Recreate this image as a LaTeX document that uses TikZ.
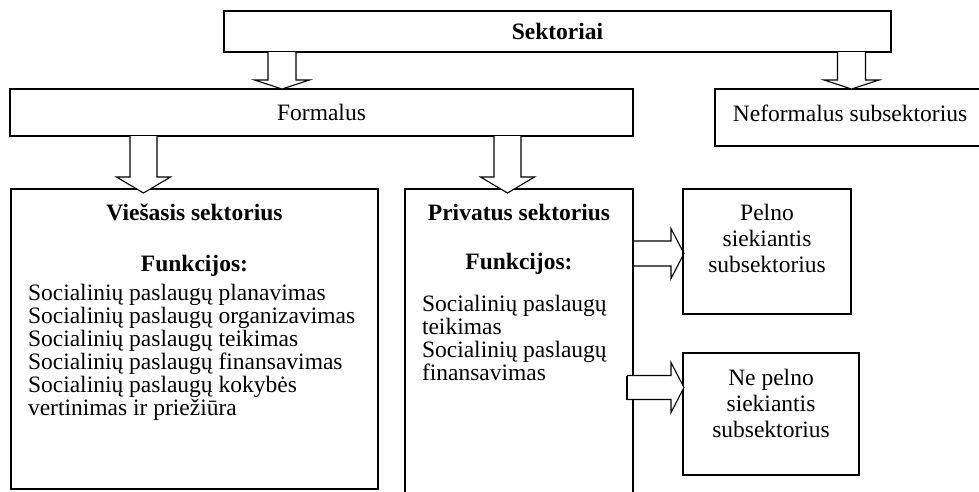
\documentclass[tikz,border=0pt]{standalone}
\usepackage{fontspec}
\setmainfont{Liberation Serif}
\usetikzlibrary{calc}
\newcommand{\downblock}[5]{% #1 start coordinate, #2 shaft half, #3 head half, #4 shaft length, #5 head length
  \draw[barrow] ($(#1)+(-#2,0)$) -- ($(#1)+(-#2,#4)$) -- ($(#1)+(-#3,#4)$) -- ($(#1)+(0,#4+#5)$)
    -- ($(#1)+(#3,#4)$) -- ($(#1)+(#2,#4)$) -- ($(#1)+(#2,0)$);}
\newcommand{\rightblock}[5]{%
  \draw[barrow] ($(#1)+(0,-#2)$) -- ($(#1)+(#4,-#2)$) -- ($(#1)+(#4,-#3)$) -- ($(#1)+(#4+#5,0)$)
    -- ($(#1)+(#4,#3)$) -- ($(#1)+(#4,#2)$) -- ($(#1)+(0,#2)$);}
\begin{document}
\begin{tikzpicture}[x=1pt,y=-1pt,
  box/.style={draw, line width=1.1pt, inner sep=0pt, outer sep=0pt, anchor=north west},
  txt/.style={inner sep=0pt, outer sep=0pt, font=\fontsize{23.5}{23}\selectfont},
  barrow/.style={draw, line width=1.1pt, line join=miter, fill=white}]
\useasboundingbox (0,0) rectangle (979,491);
\fill[white] (0,0) rectangle (979,491);
\clip (0,0) rectangle (979,491);

% boxes
\node[box, minimum width=667pt, minimum height=41pt, font=\fontsize{23.5}{24}\selectfont\bfseries] (sek) at (224,11) {Sektoriai};
\node[box, minimum width=623pt, minimum height=47pt, font=\fontsize{23.5}{24}\selectfont] (form) at (10,89) {Formalus};
\node[box, minimum width=285pt, minimum height=57pt] (neform) at (715,89) {};
\node[box, minimum width=367pt, minimum height=300pt] (vies) at (11,189) {};
\node[box, minimum width=228pt, minimum height=340pt] (priv) at (405,189) {};
\node[box, minimum width=168pt, minimum height=125pt] (pelno) at (683,189) {};
\node[box, minimum width=176pt, minimum height=122pt] (nepelno) at (683,353) {};

% texts
\node[txt] (neformt) at (850,113) {Neformalus subsektorius};
\node[txt, font=\fontsize{23.5}{24}\selectfont\bfseries] (viesh) at (194.5,212) {Viešasis sektorius};
\node[txt, font=\fontsize{23.5}{24}\selectfont\bfseries] (viesf) at (194.5,266) {Funkcijos:};
\node[txt, align=left, anchor=base west] (viesl) at (28,415) {Socialinių paslaugų planavimas\\Socialinių paslaugų organizavimas\\Socialinių paslaugų teikimas\\Socialinių paslaugų finansavimas\\Socialinių paslaugų kokybės\\vertinimas ir priežiūra};
\node[txt, font=\fontsize{23.5}{24}\selectfont\bfseries] (privh) at (519,212) {Privatus sektorius};
\node[txt, font=\fontsize{23.5}{24}\selectfont\bfseries] (privf) at (519,264) {Funkcijos:};
\node[txt, align=left, anchor=base west] (privl) at (422,380) {Socialinių paslaugų\\teikimas\\Socialinių paslaugų\\finansavimas};
\node[txt, align=center, font=\fontsize{23.5}{26}\selectfont] (pelnot) at (767,238) {Pelno\\siekiantis\\subsektorius};
\node[txt, align=center, font=\fontsize{23.5}{26}\selectfont] (nepelnot) at (771,403.5) {Ne pelno\\siekiantis\\subsektorius};

% block arrows
\coordinate (a1) at ([xshift=58pt]sek.south west);
\coordinate (a2) at ([xshift=627.5pt]sek.south west);
\coordinate (a3) at ([xshift=133.5pt]form.south west);
\coordinate (a4) at ([xshift=497.5pt]form.south west);
\coordinate (a5) at ([yshift=-64.5pt]priv.north east);
\coordinate (a6) at ([yshift=-198.5pt,xshift=-6pt]priv.north east);
\downblock{a1}{14}{27.5}{28}{9}
\downblock{a2}{14}{27.5}{28}{9}
\downblock{a3}{13.5}{27}{41}{16}
\downblock{a4}{13.5}{27}{41}{16}
\draw[barrow, fill=none] ($(a5)+(0,-12.5)$) -- ($(a5)+(38,-12.5)$) -- ($(a5)+(38,-25)$) -- ($(a5)+(51,0)$)
    -- ($(a5)+(38,25)$) -- ($(a5)+(38,12.5)$) -- ($(a5)+(0,12.5)$);
\rightblock{a6}{12}{25}{44}{13}
\draw[barrow, fill=none] (a6) ++(0,-12) -- ++(0,24);
\end{tikzpicture}
\end{document}
